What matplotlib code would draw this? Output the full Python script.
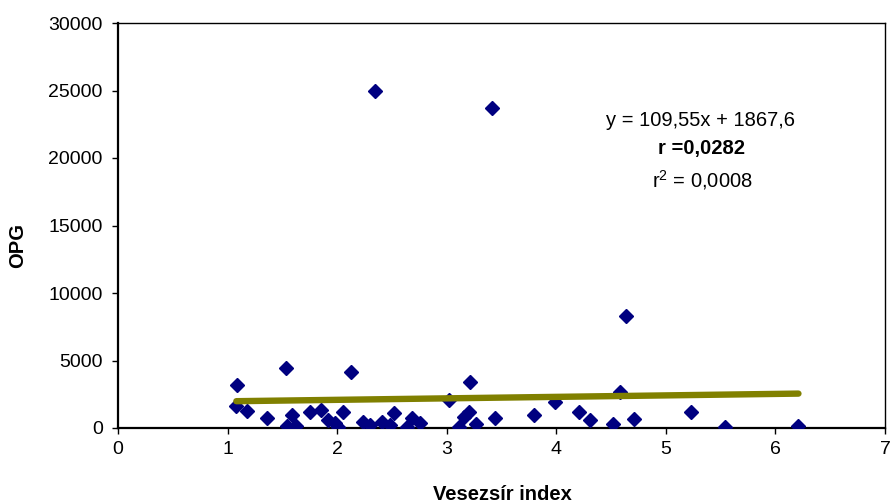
import matplotlib
matplotlib.use("Agg")
import matplotlib.pyplot as plt
import numpy as np

plt.rcParams['font.family'] = ['Liberation Sans', 'DejaVu Sans']

# Kidney-fat index vs OPG measurements
vesezsir_index = [1.09, 1.08, 1.18, 1.36, 1.53, 1.59, 1.545, 1.625, 1.75, 1.85,
                  1.92, 1.98, 2.01, 2.05, 2.13, 2.24, 2.30, 2.35, 2.41, 2.48,
                  2.52, 2.64, 2.68, 2.76, 3.02, 3.11, 3.16, 3.20, 3.21, 3.27,
                  3.41, 3.44, 3.80, 3.99, 4.21, 4.31, 4.52, 4.58, 4.64, 4.71,
                  5.23, 5.54, 6.21]
opg = [3150, 1650, 1230, 760, 4450, 980, 150, 150, 1160, 1330,
       590, 350, 50, 1210, 4170, 470, 250, 25000, 470, 220,
       1090, 100, 720, 350, 2070, 80, 850, 1150, 3380, 300,
       23700, 770, 960, 1950, 1210, 590, 300, 2690, 8300, 670,
       1210, 50, 150]

# Linear trend as reported on the chart
slope = 109.55
intercept = 1867.6
eq_text = "y = 109,55x + 1867,6"
r_text = "r =0,0282"
r2_text = r"r$^{\mathregular{2}}$ = 0,0008"

x_ticks = [0, 1, 2, 3, 4, 5, 6, 7]
y_ticks = [0, 5000, 10000, 15000, 20000, 25000, 30000]

W, H = 891, 504
fig = plt.figure(figsize=(W / 100, H / 100), dpi=100)
ax = fig.add_axes([118 / W, 76 / H, 767 / W, 405 / H])

ax.plot(vesezsir_index, opg, linestyle='none', marker='D', markersize=7,
        markerfacecolor='#000080', markeredgecolor='#000080', zorder=3)

xs = np.array([min(vesezsir_index), max(vesezsir_index)])
ax.plot(xs, slope * xs + intercept, color='#808000', linewidth=4.6,
        solid_capstyle='round', zorder=4)

ax.set_xlim(0, 7)
ax.set_ylim(0, 30000)
ax.set_xticks(x_ticks)
ax.set_yticks(y_ticks)
ax.set_xticklabels([str(t) for t in x_ticks])
ax.set_yticklabels([str(t) for t in y_ticks])
ax.tick_params(direction='out', length=4, width=1, labelsize=14, colors='black')
ax.tick_params(axis='y', pad=7)
ax.tick_params(axis='x', pad=5)

for side in ['left', 'bottom']:
    ax.spines[side].set_linewidth(1.6)
for side in ['top', 'right']:
    ax.spines[side].set_linewidth(1.0)


def px(x, y):
    return x / W, 1 - y / H


fig.text(*px(502, 494), "Vesezsír index", ha='center', va='center',
         fontsize=14.5, fontweight='bold')
fig.text(*px(18, 245), "OPG", ha='center', va='center',
         rotation=90, fontsize=14.5, fontweight='bold')

fig.text(*px(701, 121), eq_text, fontsize=14.5, ha='center', va='center')
fig.text(*px(701, 148), r_text, fontsize=14.5, ha='center', va='center',
         fontweight='bold')
fig.text(*px(702, 180), r2_text, fontsize=14.5, ha='center', va='center')

fig.savefig("out.png", dpi=100)
